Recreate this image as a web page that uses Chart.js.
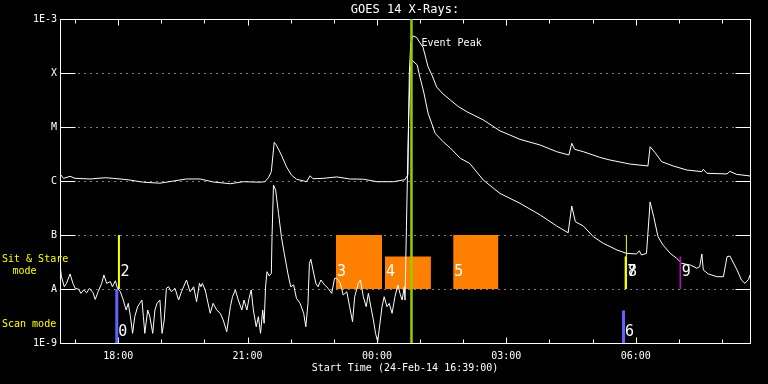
<!DOCTYPE html>
<html>
<head>
<meta charset="utf-8">
<title>GOES 14 X-Rays</title>
<script src="https://cdn.jsdelivr.net/npm/chart.js@4.4.1/dist/chart.umd.min.js"></script>
<style>
  html, body { margin: 0; padding: 0; background: #000; }
  canvas { display: block; }
</style>
</head>
<body>
<canvas id="goes" width="768" height="384"></canvas>
<script>
// Tiempos en minutos desde el inicio (24-Feb-14 16:39:00), flujo en W/m^2
const longMin = [0, 5, 14, 21, 42, 63, 74, 93, 116, 139, 158, 176, 195, 213, 237, 255, 278, 285, 290, 294,
  298, 301, 308, 315, 322, 329, 343, 348, 352, 366, 385, 403, 422, 441, 464, 480, 484, 486, 488, 491,
  496, 501, 505, 512, 518, 524, 533, 543, 554, 566, 575, 589, 612, 626, 640, 668, 691, 708, 712, 716,
  728, 751, 765, 793, 818, 821, 828, 837, 853, 872, 893, 895, 900, 928, 932, 941, 960];
const longFlux = [1.35e-6, 1.12e-6, 1.22e-6, 1.12e-6, 1.09e-6, 1.15e-6, 1.12e-6, 1.06e-6, 9.5e-7, 9.1e-7,
  1.0e-6, 1.09e-6, 1.09e-6, 9.6e-7, 8.9e-7, 9.7e-7, 9.5e-7, 9.7e-7, 1.15e-6, 1.49e-6,
  5.2e-6, 4.64e-6, 3.03e-6, 1.84e-6, 1.29e-6, 1.08e-6, 9.7e-7, 1.25e-6, 1.1e-6, 1.12e-6,
  1.19e-6, 1.09e-6, 1.08e-6, 9.7e-7, 9.7e-7, 1.06e-6, 1.3e-6, 1.0e-4, 3.6e-4, 4.84e-4,
  4.58e-4, 3.59e-4, 3.03e-4, 1.31e-4, 8.8e-5, 5.5e-5, 4.08e-5, 3.16e-5, 2.4e-5, 1.92e-5,
  1.67e-5, 1.35e-5, 8.5e-6, 7.1e-6, 5.9e-6, 4.64e-6, 3.49e-6, 3.03e-6, 4.99e-6, 3.86e-6,
  3.49e-6, 2.74e-6, 2.45e-6, 2.06e-6, 1.9e-6, 4.3e-6, 3.34e-6, 2.28e-6, 1.9e-6, 1.6e-6,
  1.49e-6, 1.65e-6, 1.39e-6, 1.35e-6, 1.51e-6, 1.33e-6, 1.24e-6];

const shortMin = [0, 2, 6, 9, 14, 18, 21, 26, 29, 33, 37, 41, 46, 49, 53, 58, 61, 65, 70, 73,
  77, 80, 84, 88, 92, 95, 98, 101, 104, 108, 111, 114, 116, 118, 122, 125, 129, 132, 135, 139,
  142, 145, 148, 151, 155, 160, 165, 169, 176, 181, 186, 190, 194, 196, 198, 202, 206, 209, 213, 218,
  223, 227, 232, 237, 240, 244, 248, 253, 256, 260, 263, 266, 269, 273, 276, 279, 282, 284, 286, 288,
  291, 294, 295, 297, 300, 304, 308, 312, 317, 321, 325, 329, 334, 339, 342, 345, 347, 349, 352, 356,
  359, 363, 368, 373, 378, 382, 385, 390, 394, 399, 403, 407, 410, 415, 418, 422, 426, 429, 432, 436,
  439, 442, 444, 448, 451, 455, 458, 462, 466, 470, 473, 476, 479, 480, 482, 484, 485, 487, 489, 491,
  497, 500, 506, 512, 522, 533, 543, 557, 570, 589, 612, 640, 668, 691, 707, 712, 717, 728, 742, 756,
  775, 788, 802, 806, 809, 816, 821, 826, 832, 839, 849, 858, 865, 877, 886, 890, 893, 895, 902, 914,
  923, 928, 932, 942, 948, 953, 958, 960];
const shortFlux = [2.78e-8, 1.69e-8, 1.1e-8, 1.27e-8, 1.9e-8, 1.27e-8, 1.03e-8, 9.9e-9, 8.3e-9, 9.6e-9,
  8.5e-9, 1.03e-8, 8.5e-9, 6.4e-9, 8.9e-9, 1.27e-8, 1.82e-8, 1.27e-8, 1.37e-8, 1.1e-8,
  1.42e-8, 1.03e-8, 8.9e-9, 6.25e-9, 4.08e-9, 5.43e-9, 3.07e-9, 1.51e-9, 3.07e-9, 4.7e-9,
  5.43e-9, 6.25e-9, 3.07e-9, 1.51e-9, 4.08e-9, 3.07e-9, 1.51e-9, 4.08e-9, 5.43e-9, 6.25e-9,
  1.51e-9, 2.67e-9, 1.03e-8, 1.1e-8, 8.9e-9, 1.03e-8, 6.25e-9, 8.9e-9, 1.47e-8, 8.9e-9,
  1.1e-8, 5.8e-9, 1.27e-8, 1.1e-8, 1.27e-8, 9.6e-9, 5.43e-9, 3.55e-9, 5.43e-9, 4.08e-9,
  3.55e-9, 2.67e-9, 1.62e-9, 4.7e-9, 7.2e-9, 9.6e-9, 6.25e-9, 4.08e-9, 6.25e-9, 4.08e-9,
  6.7e-9, 9.6e-9, 4.08e-9, 2.0e-9, 3.07e-9, 1.51e-9, 4.08e-9, 2.32e-9, 1.1e-8, 2.09e-8,
  1.74e-8, 1.95e-8, 9.3e-8, 8.43e-7, 6.8e-7, 2.52e-7, 9.3e-8, 4.58e-8, 1.95e-8, 1.1e-8,
  1.19e-8, 6.7e-9, 5.43e-9, 3.55e-9, 2.0e-9, 5.43e-9, 2.99e-8, 3.55e-8, 2.25e-8, 1.27e-8,
  1.1e-8, 1.47e-8, 1.19e-8, 1.03e-8, 8.3e-9, 1.58e-8, 1.58e-8, 1.27e-8, 7.74e-9, 8.9e-9,
  4.7e-9, 2.48e-9, 7.2e-9, 1.27e-8, 1.47e-8, 7.2e-9, 4.7e-9, 8.3e-9, 5.05e-9, 2.67e-9,
  1.51e-9, 1.06e-9, 1.74e-9, 4.7e-9, 7.2e-9, 4.7e-9, 5.43e-9, 3.55e-9, 7.2e-9, 1.19e-8,
  8.3e-9, 6.25e-9, 1.1e-8, 6.25e-9, 1.42e-7, 3.26e-6, 1.35e-5, 9.18e-5, 1.74e-4, 1.67e-4,
  1.41e-4, 9.18e-5, 4.45e-5, 1.82e-5, 7.64e-6, 5.34e-6, 4.08e-6, 2.63e-6, 2.12e-6, 1.04e-6,
  5.9e-7, 3.86e-7, 2.35e-7, 1.47e-7, 1.1e-7, 3.44e-7, 1.76e-7, 1.47e-7, 9.3e-8, 7.0e-8,
  5.27e-8, 4.58e-8, 4.45e-8, 5.1e-8, 4.26e-8, 4.58e-8, 4.1e-7, 2.18e-7, 9.3e-8, 6.5e-8,
  4.58e-8, 3.7e-8, 2.99e-8, 2.78e-8, 2.42e-8, 2.59e-8, 4.45e-8, 2.25e-8, 1.9e-8, 1.69e-8,
  1.69e-8, 3.96e-8, 4.08e-8, 2.25e-8, 1.47e-8, 1.27e-8, 1.51e-8, 1.82e-8];

// Ejes
const yTickVals = [1e-9, 1e-8, 1e-7, 1e-6, 1e-5, 1e-4, 1e-3];
const yTickLabels = ['1E-9', 'A', 'B', 'C', 'M', 'X', '1E-3'];
const xTickMin = [81, 261, 441, 621, 801];
const xTickLabels = ['18:00', '21:00', '00:00', '03:00', '06:00'];
const hourMarks = [21, 81, 141, 201, 261, 321, 381, 441, 501, 561, 621, 681, 741, 801, 861, 921];

// Eventos: pico, marcas de modo y bloques de observación
const peakMin = 489;
const markerNames = ['0', '2', '6', '7', '8', '9'];
const markerKinds = ['scan', 'stare', 'scan', 'stare', 'stareThin', 'other'];
const markerMin = [79, 82, 784, 787, 788, 863];
const markerTop = [1e-8, 1e-7, 4e-9, 4e-8, 1e-7, 4e-8];
const markerBottom = [1e-9, 1e-8, 1e-9, 1e-8, 1e-8, 1e-8];
const blockNames = ['3', '4', '5'];
const blockStart = [384, 452, 547];
const blockEnd = [448, 516, 610];
const blockTop = [1e-7, 4e-8, 1e-7];
const blockBottom = [1e-8, 1e-8, 1e-8];

// Estilos
const MONO = '"DejaVu Sans Mono", "Liberation Mono", monospace';
const kindStyle = {
  scan: { color: '#6262ff', width: 3, level: 1.57e-9 },
  stare: { color: '#ffff00', width: 2, level: 2.06e-8 },
  stareThin: { color: '#ffff00', width: 1, level: 2.06e-8 },
  other: { color: '#cc00cc', width: 1.5, level: 2.06e-8 },
};
const ORANGE = '#ff8000';
const PEAK_GREEN = '#99cc00';

const toPts = (xs, ys) => xs.map((m, i) => ({ x: m, y: ys[i] }));

const datasets = [
  { label: 'Event Peak', data: [{ x: peakMin, y: 1e-9 }, { x: peakMin, y: 1e-3 }],
    borderColor: PEAK_GREEN, borderWidth: 2.5, order: 0 },
  ...markerNames.map((n, i) => ({
    label: 'marker ' + n,
    data: [{ x: markerMin[i], y: markerBottom[i] }, { x: markerMin[i], y: markerTop[i] }],
    borderColor: kindStyle[markerKinds[i]].color, borderWidth: kindStyle[markerKinds[i]].width, order: 1,
  })),
  { label: '1-8 A', data: toPts(longMin, longFlux), borderColor: '#fff', borderWidth: 1, order: 2 },
  { label: '0.5-4 A', data: toPts(shortMin, shortFlux), borderColor: '#fff', borderWidth: 1, order: 2 },
  ...blockNames.map((n, i) => ({
    label: 'block ' + n,
    data: [{ x: blockStart[i], y: blockTop[i] }, { x: blockEnd[i], y: blockTop[i] }],
    borderWidth: 0, borderColor: 'rgba(0,0,0,0)', backgroundColor: ORANGE,
    fill: { value: blockBottom[i] }, order: 3,
  })),
];

function seg(ctx, x1, y1, x2, y2) {
  ctx.beginPath();
  ctx.moveTo(x1, y1);
  ctx.lineTo(x2, y2);
  ctx.stroke();
}

// Marco estilo IDL: caja, marcas hacia dentro y líneas punteadas
const idlFrame = {
  id: 'idlFrame',
  beforeDraw(chart) {
    const { ctx, width, height } = chart;
    ctx.save();
    ctx.fillStyle = '#000';
    ctx.fillRect(0, 0, width, height);
    ctx.restore();
  },
  beforeDatasetsDraw(chart) {
    const { ctx, chartArea: a, scales: { x, y } } = chart;
    const px = (v) => Math.round(x.getPixelForValue(v)) + 0.5;
    const py = (v) => Math.round(y.getPixelForValue(v)) + 0.5;
    const L = Math.round(a.left) + 0.5, R = Math.round(a.right) + 0.5;
    const T = Math.round(a.top) + 0.5, B = Math.round(a.bottom) + 0.5;
    ctx.save();
    ctx.strokeStyle = '#fff';
    ctx.lineWidth = 1;
    ctx.setLineDash([1, 5]);
    yTickVals.slice(1, -1).forEach((v) => seg(ctx, L, py(v), R, py(v)));
    ctx.setLineDash([]);
    ctx.strokeRect(L, T, R - L, B - T);
    yTickVals.forEach((v) => {
      seg(ctx, L, py(v), L + 15, py(v));
      seg(ctx, R - 15, py(v), R, py(v));
    });
    hourMarks.forEach((m) => {
      const len = xTickMin.includes(m) ? 6 : 4;
      seg(ctx, px(m), T, px(m), T + len);
      seg(ctx, px(m), B, px(m), B - len);
    });
    ctx.restore();
  },
  afterDatasetsDraw(chart) {
    const { ctx, scales: { x, y } } = chart;
    ctx.save();
    ctx.textBaseline = 'middle';
    ctx.textAlign = 'left';
    ctx.fillStyle = '#fff';
    ctx.font = `15px ${MONO}`;
    markerNames.forEach((n, i) => {
      ctx.fillText(n, x.getPixelForValue(markerMin[i]) + 1.5, y.getPixelForValue(kindStyle[markerKinds[i]].level));
    });
    blockNames.forEach((n, i) => {
      ctx.fillText(n, x.getPixelForValue(blockStart[i]) + 1, y.getPixelForValue(kindStyle.stare.level));
    });
    ctx.font = `10px ${MONO}`;
    ctx.fillText('Event Peak', x.getPixelForValue(peakMin) + 10, y.getPixelForValue(3.6e-4));
    // Leyenda de modos a la izquierda
    ctx.fillStyle = '#ffff00';
    ctx.fillText('Sit & Stare', 2, y.getPixelForValue(3.6e-8));
    ctx.textAlign = 'center';
    ctx.fillText('mode', 24.5, y.getPixelForValue(2.15e-8));
    ctx.textAlign = 'left';
    ctx.fillText('Scan mode', 2, y.getPixelForValue(2.25e-9));
    ctx.restore();
  },
};

new Chart(document.getElementById('goes'), {
  type: 'line',
  data: { datasets },
  plugins: [idlFrame],
  options: {
    responsive: false,
    animation: false,
    devicePixelRatio: 1,
    events: [],
    elements: { point: { radius: 0 }, line: { tension: 0 } },
    layout: { padding: { left: 0, right: 18, top: 0, bottom: 0 } },
    plugins: {
      legend: { display: false },
      tooltip: { enabled: false },
      title: {
        display: true,
        text: 'GOES 14 X-Rays:',
        color: '#fff',
        fullSize: false,
        font: { family: MONO, size: 12, weight: 'normal' },
        padding: { top: 2.3, bottom: 2.3 },
      },
    },
    scales: {
      x: {
        type: 'linear',
        min: 0,
        max: 960,
        afterFit: (s) => { s.height = 41; },
        afterBuildTicks: (s) => { s.ticks = xTickMin.map((v) => ({ value: v })); },
        grid: { display: false, drawTicks: false },
        border: { display: false },
        ticks: {
          color: '#fff', padding: 7, maxRotation: 0, autoSkip: false,
          font: { family: MONO, size: 10 },
          callback: (v, i) => xTickLabels[i],
        },
        title: {
          display: true,
          text: 'Start Time (24-Feb-14 16:39:00)',
          color: '#fff',
          font: { family: MONO, size: 10 },
          padding: { top: 0, bottom: 10 },
        },
      },
      y: {
        type: 'logarithmic',
        min: 1e-9,
        max: 1e-3,
        afterFit: (s) => { s.width = 60; },
        afterBuildTicks: (s) => { s.ticks = yTickVals.map((v) => ({ value: v })); },
        grid: { display: false, drawTicks: false },
        border: { display: false },
        ticks: {
          color: '#fff', padding: 3, autoSkip: false,
          font: { family: MONO, size: 10 },
          callback: (v, i) => yTickLabels[i],
        },
      },
    },
  },
});
</script>
</body>
</html>
